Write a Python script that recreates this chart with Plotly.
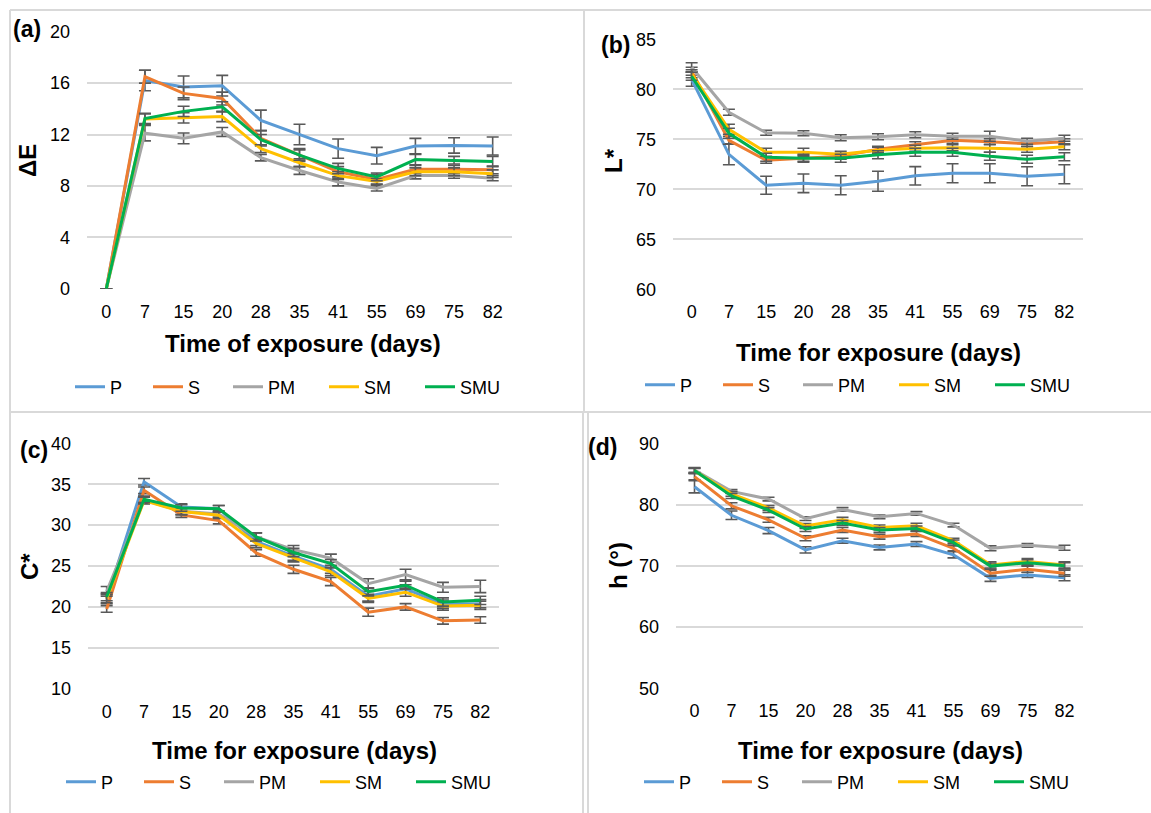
import plotly.graph_objects as go

W, H = 1151, 813

days = ["0", "7", "15", "20", "28", "35", "41", "55", "69", "75", "82"]
series = ["P", "S", "PM", "SM", "SMU"]
colors = {"P": "#5B9BD5", "S": "#ED7D31", "PM": "#A5A5A5", "SM": "#FFC000", "SMU": "#00B050"}
legend_widths = [33, 35, 51, 51, 45]

# (a) Delta E
dE_P = [0, 16.2, 15.7, 15.8, 13.1, 12.0, 10.9, 10.35, 11.1, 11.15, 11.1]
dE_S = [0, 16.5, 15.2, 14.8, 11.7, 10.4, 9.1, 8.5, 9.3, 9.3, 9.25]
dE_PM = [0, 12.1, 11.7, 12.2, 10.2, 9.2, 8.3, 7.8, 8.8, 8.8, 8.6]
dE_SM = [0, 13.2, 13.3, 13.4, 10.9, 9.8, 8.8, 8.35, 9.1, 9.1, 8.95]
dE_SMU = [0, 13.25, 13.8, 14.15, 11.6, 10.4, 9.35, 8.7, 10.05, 10.0, 9.9]
dE_P_err = [0, 0.8, 0.85, 0.8, 0.8, 0.8, 0.75, 0.65, 0.6, 0.6, 0.7]
dE_S_err = [0, 0.5, 0.5, 0.5, 0.6, 0.5, 0.4, 0.4, 0.3, 0.3, 0.3]
dE_PM_err = [0, 0.6, 0.42, 0.35, 0.25, 0.3, 0.3, 0.2, 0.25, 0.2, 0.2]
dE_SM_err = [0, 0.4, 0.4, 0.4, 0.3, 0.3, 0.3, 0.2, 0.3, 0.3, 0.3]
dE_SMU_err = [0, 0.4, 0.4, 0.4, 0.4, 0.4, 0.4, 0.3, 0.4, 0.3, 0.4]

# (b) L*
L_P = [81.0, 73.5, 70.4, 70.6, 70.4, 70.8, 71.35, 71.6, 71.6, 71.3, 71.5]
L_S = [81.8, 74.9, 72.9, 73.1, 73.3, 74.0, 74.45, 74.9, 74.75, 74.55, 74.75]
L_PM = [82.2, 77.7, 75.65, 75.6, 75.15, 75.25, 75.45, 75.3, 75.3, 74.8, 75.1]
L_SM = [81.55, 76.0, 73.7, 73.7, 73.5, 73.9, 74.1, 74.15, 74.1, 74.0, 74.25]
L_SMU = [81.3, 75.6, 73.2, 73.1, 73.1, 73.45, 73.7, 73.7, 73.3, 73.0, 73.25]
L_P_err = [0.7, 1.05, 0.9, 0.93, 0.95, 1.0, 0.92, 0.95, 0.95, 0.95, 0.95]
L_S_err = [0.4, 0.4, 0.3, 0.3, 0.3, 0.3, 0.3, 0.3, 0.3, 0.3, 0.3]
L_PM_err = [0.45, 0.3, 0.25, 0.25, 0.3, 0.3, 0.3, 0.3, 0.5, 0.3, 0.3]
L_SM_err = [0.4, 0.5, 0.4, 0.4, 0.3, 0.3, 0.3, 0.3, 0.4, 0.3, 0.3]
L_SMU_err = [0.4, 0.5, 0.4, 0.4, 0.4, 0.4, 0.4, 0.4, 0.4, 0.4, 0.4]

# (c) C*
C_P = [21.0, 35.3, 32.2, 32.0, 28.0, 26.2, 24.6, 21.3, 22.2, 20.35, 20.4]
C_S = [19.75, 34.25, 31.25, 30.55, 26.6, 24.6, 23.1, 19.35, 20.0, 18.3, 18.4]
C_PM = [21.9, 33.05, 31.7, 31.35, 28.55, 27.0, 25.95, 22.85, 23.95, 22.4, 22.5]
C_SM = [21.0, 33.0, 31.65, 31.2, 27.75, 26.0, 24.3, 21.05, 21.8, 20.1, 20.2]
C_SMU = [21.25, 33.15, 32.1, 32.0, 28.55, 26.65, 25.3, 21.85, 22.65, 20.6, 20.8]
C_P_err = [0.6, 0.4, 0.4, 0.4, 0.5, 0.5, 0.5, 0.6, 0.5, 0.5, 0.5]
C_S_err = [0.4, 0.4, 0.3, 0.4, 0.4, 0.5, 0.5, 0.5, 0.4, 0.4, 0.4]
C_PM_err = [0.6, 0.4, 0.4, 0.4, 0.5, 0.5, 0.5, 0.6, 0.65, 0.6, 0.75]
C_SM_err = [0.5, 0.4, 0.4, 0.4, 0.5, 0.5, 0.5, 0.5, 0.5, 0.5, 0.5]
C_SMU_err = [0.5, 0.4, 0.4, 0.4, 0.5, 0.5, 0.5, 0.5, 0.5, 0.5, 0.5]

# (d) h (deg)
h_P = [82.9, 78.25, 75.75, 72.6, 74.1, 73.0, 73.55, 71.8, 67.95, 68.5, 68.05]
h_S = [84.55, 79.8, 77.5, 74.5, 75.85, 74.75, 75.2, 72.85, 68.8, 69.45, 68.8]
h_PM = [85.65, 82.15, 80.9, 77.7, 79.2, 78.0, 78.55, 76.65, 72.85, 73.35, 72.95]
h_SM = [85.5, 81.75, 79.45, 76.5, 77.5, 76.25, 76.55, 74.1, 70.15, 70.7, 70.15]
h_SMU = [85.55, 81.4, 79.1, 76.0, 77.0, 75.85, 76.1, 73.8, 69.95, 70.5, 70.0]
h_P_err = [1.0, 0.7, 0.5, 0.5, 0.4, 0.4, 0.4, 0.5, 0.5, 0.4, 0.5]
h_S_err = [0.5, 0.5, 0.4, 0.4, 0.4, 0.4, 0.4, 0.4, 0.5, 0.5, 0.5]
h_PM_err = [0.4, 0.3, 0.3, 0.3, 0.3, 0.3, 0.3, 0.3, 0.4, 0.3, 0.4]
h_SM_err = [0.4, 0.4, 0.4, 0.4, 0.4, 0.4, 0.4, 0.4, 0.5, 0.5, 0.5]
h_SMU_err = [0.4, 0.4, 0.4, 0.4, 0.4, 0.4, 0.4, 0.4, 0.5, 0.5, 0.5]

panels = [
    {"vals": [dE_P, dE_S, dE_PM, dE_SM, dE_SMU],
     "errs": [dE_P_err, dE_S_err, dE_PM_err, dE_SM_err, dE_SMU_err],
     "box": (87, 512, 31.7, 288.7), "range": [0, 20], "dtick": 4,
     "ytitle": "ΔE", "yt_pos": (28, 161), "xtitle": "Time of exposure (days)", "xt_pos": (303, 343),
     "label": "(a)", "lab_pos": (27, 29), "leg_text": (112, 387)},
    {"vals": [L_P, L_S, L_PM, L_SM, L_SMU],
     "errs": [L_P_err, L_S_err, L_PM_err, L_SM_err, L_SMU_err],
     "box": (673, 1083, 39.3, 289.3), "range": [60, 85], "dtick": 5,
     "ytitle": "L*", "yt_pos": (614, 161), "xtitle": "Time for exposure (days)", "xt_pos": (878, 352),
     "label": "(b)", "lab_pos": (615, 45), "leg_text": (682, 385)},
    {"vals": [C_P, C_S, C_PM, C_SM, C_SMU],
     "errs": [C_P_err, C_S_err, C_PM_err, C_SM_err, C_SMU_err],
     "box": (88, 499, 443.3, 688.7), "range": [10, 40], "dtick": 5,
     "ytitle": "C*", "yt_pos": (29, 567), "xtitle": "Time for exposure (days)", "xt_pos": (294, 750),
     "label": "(c)", "lab_pos": (34, 450), "leg_text": (103, 782)},
    {"vals": [h_P, h_S, h_PM, h_SM, h_SMU],
     "errs": [h_P_err, h_S_err, h_PM_err, h_SM_err, h_SMU_err],
     "box": (676, 1083, 443.3, 688.3), "range": [50, 90], "dtick": 10,
     "ytitle": "h (°)", "yt_pos": (618, 566), "xtitle": "Time for exposure (days)", "xt_pos": (880, 750),
     "label": "(d)", "lab_pos": (602, 447), "leg_text": (681, 782)},
]

FONT = "Liberation Sans, Arial, sans-serif"


def px(x):
    return x / W


def py(y):
    return 1 - y / H


fig = go.Figure()
layout = dict(
    width=W, height=H, margin=dict(l=0, r=0, t=0, b=0, autoexpand=False),
    paper_bgcolor="white", plot_bgcolor="white",
    font=dict(family=FONT, color="black"),
    showlegend=True,
    annotations=[], shapes=[],
)

for i, p in enumerate(panels):
    n = "" if i == 0 else str(i + 1)
    xa, ya = "x" + n, "y" + n
    leg = "legend" + n
    for s, vals, errs, lw in zip(series, p["vals"], p["errs"], legend_widths):
        fig.add_trace(go.Scatter(
            x=days, y=vals, name=s, mode="lines",
            line=dict(color=colors[s], width=3),
            error_y=dict(type="data", array=errs, visible=True, color="#595959", thickness=1.6, width=6),
            xaxis=xa, yaxis=ya, legend=leg, legendwidth=lw, cliponaxis=False,
        ))
    x0, x1, y0, y1 = p["box"]
    layout["xaxis" + n] = dict(
        domain=[px(x0), px(x1)], anchor=ya, type="category", range=[-0.5, 10.5],
        showgrid=False, zeroline=False, showline=False, ticks="", automargin=False,
        tickfont=dict(size=18, family=FONT, color="black"), ticklabelstandoff=10,
    )
    layout["yaxis" + n] = dict(
        domain=[py(y1), py(y0)], anchor=xa, range=p["range"], dtick=p["dtick"],
        showgrid=True, gridcolor="#d9d9d9", gridwidth=1.5, zeroline=False, showline=False, ticks="",
        automargin=False,
        tickfont=dict(size=18, family=FONT, color="black"), ticklabelstandoff=16,
    )
    lx, ly = p["leg_text"]
    layout[leg] = dict(
        orientation="h", x=px(lx - 42), y=py(ly), xanchor="left", yanchor="middle",
        font=dict(size=18, family=FONT, color="black"), bgcolor="rgba(0,0,0,0)",
        borderwidth=0, tracegroupgap=0,
    )
    tx, ty = p["xt_pos"]
    layout["annotations"].append(dict(
        text="<b>%s</b>" % p["xtitle"], x=px(tx), y=py(ty), xref="paper", yref="paper",
        showarrow=False, xanchor="center", yanchor="middle", font=dict(size=24, family=FONT, color="black")))
    yx, yy = p["yt_pos"]
    layout["annotations"].append(dict(
        text="<b>%s</b>" % p["ytitle"], x=px(yx), y=py(yy), xref="paper", yref="paper", textangle=-90,
        showarrow=False, xanchor="center", yanchor="middle", font=dict(size=24, family=FONT, color="black")))
    lab_x, lab_y = p["lab_pos"]
    layout["annotations"].append(dict(
        text="<b>%s</b>" % p["label"], x=px(lab_x), y=py(lab_y), xref="paper", yref="paper",
        showarrow=False, xanchor="center", yanchor="middle", font=dict(size=23, family=FONT, color="black")))

border = dict(type="line", xref="paper", yref="paper", line=dict(color="#d9d9d9", width=2), layer="below")
for (xa_, ya_, xb_, yb_) in [(10, 10, 1151, 10), (10, 10, 10, 813), (584, 10, 584, 412),
                              (10, 412, 1151, 412), (583, 412, 583, 813), (588, 412, 588, 813)]:
    d = dict(border)
    d.update(x0=px(xa_), y0=py(ya_), x1=px(xb_), y1=py(yb_))
    layout["shapes"].append(d)

fig.update_layout(**layout)
fig.write_html(
    "out.html",
    config={"displayModeBar": False},
    post_script=(
        "var gd=document.getElementById('{plot_id}');"
        "gd.style.position='fixed';gd.style.top='0px';gd.style.left='0px';"
        "document.body.style.margin='0';"
        "document.documentElement.style.overflow='hidden';document.body.style.overflow='hidden';"
    ),
)
